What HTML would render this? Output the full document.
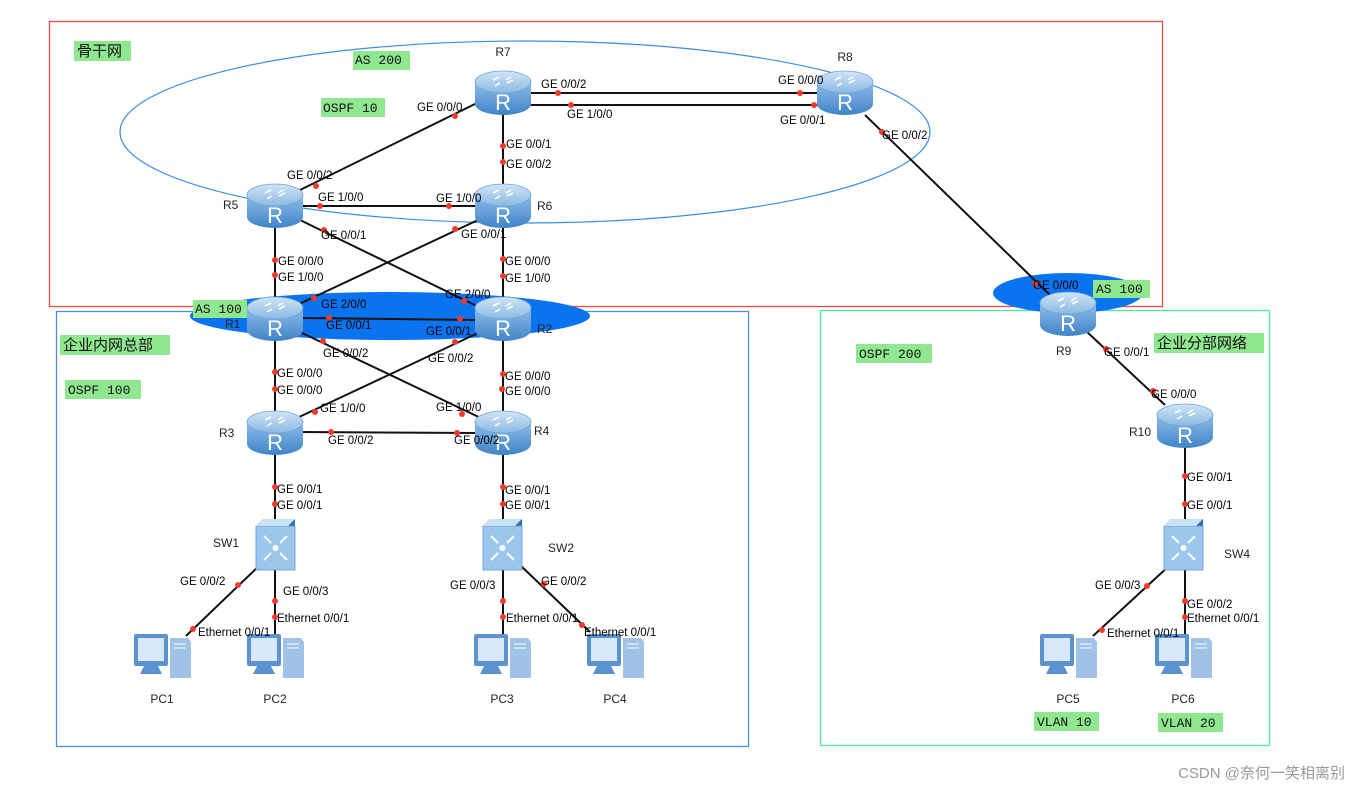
<!DOCTYPE html>
<html><head><meta charset="utf-8"><style>
body{margin:0;background:#fff}
svg{display:block}
.t{font-family:"Liberation Sans",sans-serif;font-size:11.5px;fill:#000}
.n{font-family:"Liberation Sans",sans-serif;font-size:12px;fill:#222}
.m{font-family:"Liberation Mono","DejaVu Sans Mono",monospace;font-size:13px;fill:#111}
.c{font-family:"Liberation Sans","Noto Sans CJK SC",sans-serif;font-size:15px;fill:#111}
.g{fill:#8fe88f}
.d{fill:#f03a2a}
</style></head><body>
<svg width="1360" height="790" viewBox="0 0 1360 790" xmlns="http://www.w3.org/2000/svg">
<defs>
<linearGradient id="rg" x1="0" x2="0" y1="0" y2="1"><stop offset="0" stop-color="#8fbde8"/><stop offset="1" stop-color="#3f84c8"/></linearGradient>
<linearGradient id="rt" x1="0" x2="0" y1="0" y2="1"><stop offset="0" stop-color="#cfe4f6"/><stop offset="1" stop-color="#8cb9e2"/></linearGradient>
<g id="R">
<path d="M-28,-10 L-28,12 A28,11 0 0 0 28,12 L28,-10 Z" fill="url(#rg)"/>
<ellipse cx="0" cy="-10" rx="28" ry="11" fill="url(#rt)" stroke="#6fa3d6" stroke-width="0.8"/>
<path d="M-10,-12 l6,-3 M10,-12 l-6,3 M-8,-6 l5,-3 M8,-15 l-5,3" stroke="#fff" stroke-width="1.6" fill="none"/>
<text x="0" y="18" text-anchor="middle" font-family="Liberation Sans,sans-serif" font-size="22" fill="#fff">R</text>
</g>
<g id="S">
<path d="M-24,-18 l7,-7 h32 v44 l-7,7 z" fill="#2f6fb3"/>
<rect x="-24" y="-18" width="39" height="44" fill="#9cc6ec" stroke="#5e97cf" stroke-width="0.8"/>
<path d="M-24,-18 l7,-7 h32 l-7,7 z" fill="#c9e0f5"/>
<circle cx="-4.5" cy="4" r="3" fill="#fff"/>
<path d="M-16,-8 l7,7 M7,-8 l-7,7 M-16,16 l7,-7 M7,16 l-7,-7" stroke="#fff" stroke-width="2"/>
</g>
<g id="P">
<rect x="-28" y="-26" width="34" height="32" rx="2" fill="#5c93cf"/>
<rect x="-24" y="-22" width="26" height="23" fill="#d7e8f8"/>
<path d="M-18,6 h14 l4,8 h-22 z" fill="#5c93cf"/>
<path d="M8,-22 h18 l3,4 v36 h-21 z" fill="#9fc2e6"/>
<path d="M12,-16 h12 M12,-12 h12" stroke="#fff" stroke-width="1"/>
</g>
</defs>

<rect x="49.5" y="21.5" width="1113" height="285" fill="none" stroke="#e84a4a" stroke-width="1.3"/>
<rect x="56.5" y="311.5" width="692" height="435" fill="none" stroke="#4a90e2" stroke-width="1.3"/>
<rect x="820.5" y="310.5" width="449" height="435" fill="none" stroke="#4ee89a" stroke-width="1.3"/>
<ellipse cx="525" cy="132" rx="405" ry="91" fill="none" stroke="#3a8ee6" stroke-width="1.2"/>
<ellipse cx="390" cy="316" rx="200" ry="24" fill="#0a74f0"/>
<ellipse cx="1068" cy="293" rx="75" ry="20" fill="#0a74f0"/>

<g stroke="#111" stroke-width="2" fill="none">
<line x1="530" y1="93" x2="820" y2="93"/>
<line x1="530" y1="105" x2="820" y2="105"/>
<line x1="477" y1="103" x2="300" y2="190"/>
<line x1="503" y1="110" x2="503" y2="185"/>
<line x1="300" y1="206" x2="478" y2="206"/>
<line x1="275" y1="225" x2="275" y2="300"/>
<line x1="503" y1="225" x2="503" y2="300"/>
<line x1="300" y1="220" x2="485" y2="310"/>
<line x1="478" y1="220" x2="297" y2="305"/>
<line x1="300" y1="318" x2="478" y2="320"/>
<line x1="275" y1="335" x2="275" y2="415"/>
<line x1="503" y1="335" x2="503" y2="415"/>
<line x1="300" y1="332" x2="485" y2="420"/>
<line x1="478" y1="333" x2="297" y2="418"/>
<line x1="300" y1="432" x2="478" y2="433"/>
<line x1="275" y1="450" x2="275" y2="525"/>
<line x1="503" y1="450" x2="503" y2="525"/>
<line x1="260" y1="565" x2="186" y2="636"/>
<line x1="275" y1="565" x2="275" y2="635"/>
<line x1="503" y1="565" x2="503" y2="635"/>
<line x1="520" y1="565" x2="590" y2="632"/>
<line x1="865" y1="115" x2="1050" y2="295"/>
<line x1="1085" y1="330" x2="1165" y2="405"/>
<line x1="1185" y1="448" x2="1185" y2="525"/>
<line x1="1170" y1="565" x2="1093" y2="636"/>
<line x1="1185" y1="565" x2="1185" y2="635"/>
</g>

<g class="d">
<circle cx="558" cy="93" r="3"/><circle cx="800" cy="93" r="3"/>
<circle cx="571" cy="105" r="3"/><circle cx="814" cy="105" r="3"/>
<circle cx="455" cy="116" r="3"/><circle cx="316" cy="186" r="3"/>
<circle cx="503" cy="146" r="3"/><circle cx="503" cy="162" r="3"/>
<circle cx="320" cy="206" r="3"/><circle cx="449" cy="206" r="3"/>
<circle cx="324" cy="230" r="3"/><circle cx="455" cy="229" r="3"/>
<circle cx="275" cy="260" r="3"/><circle cx="275" cy="275" r="3"/>
<circle cx="503" cy="259" r="3"/><circle cx="503" cy="276" r="3"/>
<circle cx="314" cy="298" r="3"/><circle cx="464" cy="301" r="3"/>
<circle cx="329" cy="318" r="3"/><circle cx="460" cy="319" r="3"/>
<circle cx="323" cy="341" r="3"/><circle cx="455" cy="342" r="3"/>
<circle cx="275" cy="372" r="3"/><circle cx="275" cy="389" r="3"/>
<circle cx="503" cy="374" r="3"/><circle cx="502" cy="389" r="3"/>
<circle cx="315" cy="412" r="3"/><circle cx="462" cy="414" r="3"/>
<circle cx="331" cy="432" r="3"/><circle cx="457" cy="433" r="3"/>
<circle cx="275" cy="487" r="3"/><circle cx="275" cy="504" r="3"/>
<circle cx="503" cy="487" r="3"/><circle cx="503" cy="504" r="3"/>
<circle cx="238" cy="585" r="3"/><circle cx="193" cy="629" r="3"/>
<circle cx="275" cy="601" r="3"/><circle cx="275" cy="617" r="3"/>
<circle cx="503" cy="601" r="3"/><circle cx="503" cy="617" r="3"/>
<circle cx="544" cy="584" r="3"/><circle cx="582" cy="625" r="3"/>
<circle cx="882" cy="132" r="3"/><circle cx="1035" cy="284" r="3"/>
<circle cx="1106" cy="349" r="3"/><circle cx="1153" cy="391" r="3"/>
<circle cx="1185" cy="476" r="3"/><circle cx="1185" cy="504" r="3"/>
<circle cx="1147" cy="586" r="3"/><circle cx="1102" cy="630" r="3"/>
<circle cx="1185" cy="601" r="3"/><circle cx="1185" cy="617" r="3"/>
</g>

<use href="#R" x="503" y="92"/><use href="#R" x="845" y="92"/>
<use href="#R" x="275" y="205"/><use href="#R" x="503" y="205"/>
<use href="#R" x="275" y="318"/><use href="#R" x="503" y="318"/>
<use href="#R" x="275" y="432"/><use href="#R" x="503" y="432"/>
<use href="#R" x="1068" y="313"/><use href="#R" x="1185" y="425"/>
<use href="#S" x="280" y="544"/><use href="#S" x="507" y="544"/><use href="#S" x="1188" y="544"/>
<use href="#P" x="162" y="660"/><use href="#P" x="275" y="660"/>
<use href="#P" x="502" y="660"/><use href="#P" x="615" y="660"/>
<use href="#P" x="1068" y="660"/><use href="#P" x="1183" y="660"/>

<g class="n">
<text x="503" y="56" text-anchor="middle">R7</text><text x="845" y="61" text-anchor="middle">R8</text>
<text x="223" y="209">R5</text><text x="537" y="210">R6</text>
<text x="225" y="328">R1</text><text x="537" y="333">R2</text>
<text x="219" y="437">R3</text><text x="534" y="435">R4</text>
<text x="1056" y="355">R9</text><text x="1129" y="436">R10</text>
<text x="213" y="547">SW1</text><text x="548" y="552">SW2</text><text x="1224" y="558">SW4</text>
<text x="162" y="703" text-anchor="middle">PC1</text><text x="275" y="703" text-anchor="middle">PC2</text>
<text x="502" y="703" text-anchor="middle">PC3</text><text x="615" y="703" text-anchor="middle">PC4</text>
<text x="1068" y="703" text-anchor="middle">PC5</text><text x="1183" y="703" text-anchor="middle">PC6</text>
</g>

<g class="t">
<text x="541" y="88">GE 0/0/2</text><text x="778" y="84">GE 0/0/0</text>
<text x="567" y="118">GE 1/0/0</text><text x="780" y="124">GE 0/0/1</text>
<text x="417" y="111">GE 0/0/0</text><text x="287" y="179">GE 0/0/2</text>
<text x="506" y="148">GE 0/0/1</text><text x="506" y="168">GE 0/0/2</text>
<text x="318" y="201">GE 1/0/0</text><text x="436" y="202">GE 1/0/0</text>
<text x="321" y="239">GE 0/0/1</text><text x="461" y="238">GE 0/0/1</text>
<text x="278" y="265">GE 0/0/0</text><text x="278" y="281">GE 1/0/0</text>
<text x="505" y="265">GE 0/0/0</text><text x="505" y="282">GE 1/0/0</text>
<text x="321" y="308">GE 2/0/0</text><text x="445" y="298">GE 2/0/0</text>
<text x="326" y="329">GE 0/0/1</text><text x="426" y="335">GE 0/0/1</text>
<text x="323" y="357">GE 0/0/2</text><text x="428" y="362">GE 0/0/2</text>
<text x="277" y="377">GE 0/0/0</text><text x="277" y="394">GE 0/0/0</text>
<text x="505" y="380">GE 0/0/0</text><text x="505" y="395">GE 0/0/0</text>
<text x="320" y="412">GE 1/0/0</text><text x="436" y="411">GE 1/0/0</text>
<text x="328" y="444">GE 0/0/2</text><text x="454" y="444">GE 0/0/2</text>
<text x="277" y="493">GE 0/0/1</text><text x="277" y="509">GE 0/0/1</text>
<text x="505" y="494">GE 0/0/1</text><text x="505" y="509">GE 0/0/1</text>
<text x="180" y="585">GE 0/0/2</text><text x="283" y="595">GE 0/0/3</text>
<text x="277" y="622">Ethernet 0/0/1</text><text x="198" y="636">Ethernet 0/0/1</text>
<text x="450" y="589">GE 0/0/3</text><text x="541" y="585">GE 0/0/2</text>
<text x="506" y="622">Ethernet 0/0/1</text><text x="584" y="636">Ethernet 0/0/1</text>
<text x="882" y="139">GE 0/0/2</text><text x="1033" y="289">GE 0/0/0</text>
<text x="1104" y="356">GE 0/0/1</text><text x="1151" y="398">GE 0/0/0</text>
<text x="1187" y="481">GE 0/0/1</text><text x="1187" y="509">GE 0/0/1</text>
<text x="1095" y="589">GE 0/0/3</text><text x="1187" y="608">GE 0/0/2</text>
<text x="1187" y="622">Ethernet 0/0/1</text><text x="1107" y="637">Ethernet 0/0/1</text>
</g>

<rect class="g" x="74" y="41" width="57" height="20"/><text class="c" x="77" y="56">骨干网</text>
<rect class="g" x="353" y="51" width="57" height="19"/><text class="m" x="355" y="64">AS 200</text>
<rect class="g" x="321" y="98" width="64" height="19"/><text class="m" x="323" y="112">OSPF 10</text>
<rect class="g" x="193" y="300" width="54" height="18"/><text class="m" x="195" y="313">AS 100</text>
<rect class="g" x="60" y="335" width="110" height="20"/><text class="c" x="63" y="350">企业内网总部</text>
<rect class="g" x="65" y="380" width="76" height="19"/><text class="m" x="68" y="394">OSPF 100</text>
<rect class="g" x="856" y="344" width="76" height="19"/><text class="m" x="859" y="358">OSPF 200</text>
<rect class="g" x="1093" y="280" width="57" height="18"/><text class="m" x="1096" y="293">AS 100</text>
<rect class="g" x="1154" y="333" width="110" height="20"/><text class="c" x="1157" y="348">企业分部网络</text>
<rect class="g" x="1034" y="712" width="65" height="19"/><text class="m" x="1037" y="726">VLAN 10</text>
<rect class="g" x="1158" y="713" width="65" height="19"/><text class="m" x="1161" y="727">VLAN 20</text>

<text x="1345" y="778" text-anchor="end" font-family="Liberation Sans,'Noto Sans CJK SC',sans-serif" font-size="15" fill="#999">CSDN @奈何一笑相离别</text>
</svg>
</body></html>
